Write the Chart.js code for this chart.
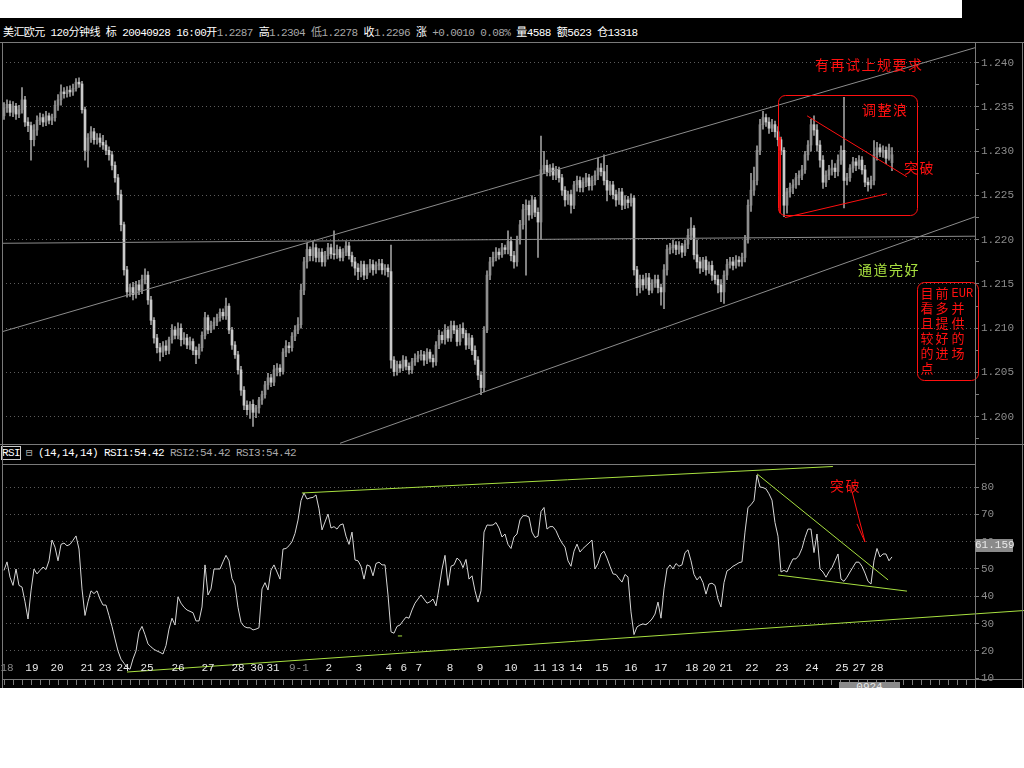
<!DOCTYPE html>
<html>
<head>
<meta charset="utf-8">
<script src="https://cdn.jsdelivr.net/npm/chart.js@4.4.0/dist/chart.umd.min.js"></script>
<style>
body{margin:0;background:#fff;width:1024px;height:768px;position:relative;overflow:hidden}
#frame{position:absolute;left:0;top:18px;width:1024px;height:670px;background:#000}
#corner{position:absolute;left:962px;top:0;width:62px;height:18px;background:#000}
.hl{position:absolute;height:1px;background:#7a7a7a}
.vl{position:absolute;width:1px;background:#7a7a7a}
.txt{position:absolute;white-space:nowrap;font:11px 'Liberation Mono','Noto Sans CJK SC',monospace;letter-spacing:-0.6px;color:#fff}
.g{color:#a8a8a8}
canvas{position:absolute;left:0}
.cur{position:absolute;background:#8a8a8a;color:#e8e8e8;font:11px 'Liberation Mono',monospace;line-height:12px;text-align:center}
</style>
</head>
<body>
<div id="frame"></div>
<div id="corner"></div>
<div class="txt" style="left:3px;top:23px">美汇欧元 120分钟线 标 20040928 16:00开<span class="g">1.2287 </span>高<span class="g">1.2304 低1.2278 </span>收<span class="g">1.2296 </span>涨<span class="g"> +0.0010 0.08% </span>量4588 额5623 仓13318</div>
<div class="txt" style="left:2px;top:446px"><span style="outline:1px solid #ccc">RSI</span> <span class="g">⊟</span> (14,14,14) RSI1:54.42 <span class="g">RSI2:54.42 RSI3:54.42</span></div>
<canvas id="price" width="1024" height="401" style="top:43px"></canvas>
<canvas id="rsi" width="1024" height="223" style="top:465px"></canvas>
<div class="hl" style="left:0;top:42px;width:1024px"></div>
<div class="hl" style="left:0;top:444px;width:1024px"></div>
<div class="hl" style="left:2px;top:464px;width:973px"></div>
<div class="hl" style="left:975px;top:679px;width:48px"></div>
<div class="vl" style="left:2px;top:42px;height:646px"></div>
<div class="vl" style="left:975px;top:42px;height:646px"></div>
<div class="vl" style="left:1022px;top:42px;height:646px"></div>
<div class="cur" style="left:975px;top:539px;width:38px;height:13px">61.159</div>
<div class="cur" style="left:839px;top:682px;width:61px;height:6px;overflow:hidden;line-height:11px">0924 20:00</div>
<script>
// 120 minute bars, 2004-08-18 .. 2004-09-28
const open = [
1.2340,1.2349,1.2353,1.2344,1.2351,1.2342,1.2347,1.2358,1.2333,1.2329,
1.2313,1.2324,1.2335,1.2338,1.2333,1.2340,1.2335,1.2338,1.2352,1.2358,
1.2367,1.2365,1.2369,1.2367,1.2371,1.2378,1.2376,1.2347,1.2301,1.2315,
1.2322,1.2313,1.2315,1.2310,1.2307,1.2301,1.2296,1.2284,1.2270,1.2251,
1.2217,1.2166,1.2141,1.2146,1.2138,1.2149,1.2143,1.2155,1.2160,1.2132,
1.2109,1.2089,1.2078,1.2073,1.2080,1.2075,1.2087,1.2098,1.2092,1.2100,
1.2087,1.2089,1.2081,1.2085,1.2075,1.2070,1.2078,1.2092,1.2112,1.2098,
1.2103,1.2107,1.2112,1.2118,1.2114,1.2125,1.2098,1.2081,1.2070,1.2053,
1.2030,1.2013,1.2008,1.2014,1.2005,1.2010,1.2019,1.2025,1.2036,1.2044,
1.2039,1.2053,1.2055,1.2051,1.2073,1.2080,1.2078,1.2091,1.2098,1.2104,
1.2143,1.2175,1.2189,1.2182,1.2191,1.2180,1.2186,1.2175,1.2182,1.2191,
1.2184,1.2183,1.2189,1.2180,1.2186,1.2193,1.2182,1.2175,1.2168,1.2164,
1.2172,1.2160,1.2168,1.2172,1.2166,1.2171,1.2173,1.2166,1.2168,1.2164,
1.2064,1.2051,1.2059,1.2055,1.2064,1.2057,1.2053,1.2062,1.2066,1.2069,
1.2070,1.2064,1.2073,1.2066,1.2062,1.2081,1.2092,1.2087,1.2098,1.2089,
1.2103,1.2098,1.2085,1.2100,1.2094,1.2081,1.2089,1.2075,1.2064,1.2047,
1.2033,1.2098,1.2160,1.2175,1.2180,1.2186,1.2183,1.2191,1.2189,1.2198,
1.2182,1.2175,1.2200,1.2217,1.2234,1.2239,1.2228,1.2245,1.2231,1.2220,
1.2279,1.2284,1.2277,1.2281,1.2273,1.2279,1.2270,1.2256,1.2245,1.2251,
1.2239,1.2262,1.2267,1.2259,1.2265,1.2270,1.2261,1.2267,1.2273,1.2281,
1.2277,1.2267,1.2256,1.2262,1.2251,1.2245,1.2254,1.2239,1.2245,1.2242,
1.2247,1.2166,1.2146,1.2155,1.2149,1.2157,1.2143,1.2151,1.2155,1.2146,
1.2141,1.2166,1.2189,1.2191,1.2194,1.2189,1.2193,1.2186,1.2195,1.2205,
1.2213,1.2183,1.2175,1.2168,1.2177,1.2166,1.2171,1.2160,1.2155,1.2149,
1.2141,1.2160,1.2172,1.2175,1.2171,1.2177,1.2175,1.2180,1.2200,1.2239,
1.2256,1.2267,1.2301,1.2330,1.2338,1.2333,1.2326,1.2330,1.2322,1.2313,
1.2301,1.2239,1.2254,1.2259,1.2262,1.2270,1.2273,1.2279,1.2296,1.2307,
1.2330,1.2324,1.2307,1.2290,1.2265,1.2273,1.2279,1.2281,1.2277,1.2290,
1.2301,1.2267,1.2270,1.2281,1.2288,1.2284,1.2290,1.2279,1.2265,1.2262,
1.2267,1.2296,1.2304,1.2299,1.2301,1.2292,1.2287];
const high = [
1.2355,1.2358,1.2357,1.2356,1.2354,1.2352,1.2372,1.2362,1.2338,1.2333,
1.2330,1.2340,1.2343,1.2342,1.2345,1.2343,1.2342,1.2357,1.2364,1.2375,
1.2372,1.2373,1.2374,1.2376,1.2382,1.2383,1.2379,1.2350,1.2320,1.2328,
1.2326,1.2320,1.2320,1.2318,1.2312,1.2305,1.2300,1.2288,1.2274,1.2256,
1.2220,1.2170,1.2150,1.2152,1.2153,1.2154,1.2160,1.2167,1.2164,1.2136,
1.2112,1.2093,1.2083,1.2085,1.2086,1.2090,1.2104,1.2102,1.2106,1.2105,
1.2095,1.2093,1.2090,1.2088,1.2079,1.2082,1.2096,1.2118,1.2115,1.2108,
1.2112,1.2116,1.2122,1.2122,1.2134,1.2128,1.2101,1.2085,1.2074,1.2057,
1.2034,1.2018,1.2017,1.2019,1.2013,1.2022,1.2029,1.2040,1.2049,1.2048,
1.2058,1.2060,1.2059,1.2077,1.2086,1.2084,1.2095,1.2103,1.2112,1.2150,
1.2180,1.2196,1.2192,1.2198,1.2195,1.2190,1.2190,1.2187,1.2196,1.2195,
1.2210,1.2194,1.2192,1.2190,1.2198,1.2197,1.2186,1.2180,1.2173,1.2176,
1.2176,1.2172,1.2178,1.2177,1.2175,1.2178,1.2178,1.2172,1.2172,1.2194,
1.2068,1.2063,1.2063,1.2069,1.2068,1.2061,1.2066,1.2071,1.2074,1.2075,
1.2074,1.2077,1.2076,1.2070,1.2085,1.2098,1.2096,1.2104,1.2102,1.2108,
1.2108,1.2103,1.2104,1.2106,1.2098,1.2094,1.2092,1.2080,1.2068,1.2051,
1.2102,1.2165,1.2180,1.2186,1.2191,1.2190,1.2196,1.2194,1.2210,1.2203,
1.2187,1.2204,1.2222,1.2240,1.2245,1.2244,1.2250,1.2248,1.2236,1.2317,
1.2300,1.2290,1.2285,1.2286,1.2283,1.2282,1.2274,1.2260,1.2255,1.2256,
1.2266,1.2272,1.2271,1.2270,1.2275,1.2274,1.2272,1.2278,1.2292,1.2286,
1.2296,1.2284,1.2266,1.2266,1.2256,1.2258,1.2258,1.2250,1.2249,1.2252,
1.2250,1.2170,1.2160,1.2160,1.2162,1.2162,1.2155,1.2160,1.2160,1.2150,
1.2172,1.2194,1.2196,1.2200,1.2198,1.2198,1.2196,1.2200,1.2212,1.2225,
1.2216,1.2200,1.2180,1.2180,1.2181,1.2175,1.2176,1.2165,1.2160,1.2155,
1.2165,1.2178,1.2180,1.2180,1.2182,1.2181,1.2185,1.2205,1.2245,1.2275,
1.2282,1.2306,1.2336,1.2345,1.2342,1.2338,1.2336,1.2334,1.2328,1.2316,
1.2304,1.2258,1.2264,1.2268,1.2275,1.2278,1.2284,1.2300,1.2312,1.2336,
1.2340,1.2330,1.2312,1.2295,1.2278,1.2284,1.2290,1.2286,1.2296,1.2306,
1.2361,1.2275,1.2285,1.2293,1.2292,1.2295,1.2294,1.2284,1.2270,1.2272,
1.2312,1.2310,1.2308,1.2306,1.2305,1.2308,1.2304];
const low = [
1.2336,1.2344,1.2340,1.2339,1.2336,1.2338,1.2343,1.2328,1.2322,1.2290,
1.2306,1.2318,1.2330,1.2328,1.2329,1.2331,1.2330,1.2334,1.2346,1.2352,
1.2360,1.2361,1.2362,1.2363,1.2368,1.2372,1.2343,1.2290,1.2282,1.2310,
1.2308,1.2308,1.2305,1.2302,1.2296,1.2290,1.2279,1.2265,1.2245,1.2210,
1.2160,1.2135,1.2136,1.2132,1.2134,1.2138,1.2139,1.2150,1.2127,1.2104,
1.2083,1.2072,1.2063,1.2068,1.2070,1.2071,1.2083,1.2088,1.2088,1.2080,
1.2082,1.2077,1.2076,1.2070,1.2060,1.2066,1.2074,1.2088,1.2094,1.2095,
1.2099,1.2103,1.2108,1.2110,1.2110,1.2094,1.2076,1.2066,1.2048,1.2024,
1.2008,1.2002,1.1998,1.1989,1.1999,1.2004,1.2014,1.2021,1.2031,1.2034,
1.2035,1.2046,1.2046,1.2048,1.2068,1.2072,1.2074,1.2086,1.2094,1.2100,
1.2138,1.2168,1.2176,1.2176,1.2175,1.2175,1.2170,1.2170,1.2178,1.2179,
1.2178,1.2179,1.2176,1.2176,1.2182,1.2178,1.2170,1.2160,1.2155,1.2158,
1.2155,1.2156,1.2163,1.2160,1.2162,1.2166,1.2161,1.2160,1.2158,1.2055,
1.2046,1.2047,1.2050,1.2052,1.2053,1.2048,1.2049,1.2058,1.2062,1.2064,
1.2058,1.2060,1.2062,1.2056,1.2058,1.2077,1.2083,1.2082,1.2085,1.2085,
1.2094,1.2080,1.2081,1.2089,1.2076,1.2077,1.2070,1.2059,1.2042,1.2025,
1.2028,1.2095,1.2155,1.2170,1.2176,1.2178,1.2180,1.2184,1.2184,1.2176,
1.2168,1.2170,1.2195,1.2212,1.2160,1.2222,1.2224,1.2226,1.2180,1.2200,
1.2275,1.2272,1.2272,1.2268,1.2268,1.2265,1.2250,1.2238,1.2240,1.2230,
1.2235,1.2255,1.2254,1.2254,1.2260,1.2256,1.2256,1.2262,1.2268,1.2272,
1.2262,1.2244,1.2251,1.2246,1.2238,1.2240,1.2234,1.2235,1.2236,1.2238,
1.2160,1.2137,1.2140,1.2143,1.2145,1.2138,1.2140,1.2146,1.2140,1.2126,
1.2122,1.2160,1.2184,1.2185,1.2183,1.2184,1.2180,1.2182,1.2190,1.2200,
1.2178,1.2168,1.2162,1.2164,1.2160,1.2162,1.2154,1.2150,1.2140,1.2130,
1.2128,1.2155,1.2168,1.2166,1.2168,1.2170,1.2170,1.2175,1.2196,1.2232,
1.2250,1.2262,1.2296,1.2325,1.2328,1.2320,1.2322,1.2316,1.2306,1.2296,
1.2226,1.2230,1.2248,1.2252,1.2258,1.2262,1.2268,1.2275,1.2290,1.2300,
1.2318,1.2300,1.2282,1.2258,1.2260,1.2268,1.2273,1.2270,1.2272,1.2285,
1.2236,1.2262,1.2266,1.2276,1.2278,1.2280,1.2274,1.2260,1.2255,1.2258,
1.2262,1.2290,1.2294,1.2293,1.2286,1.2290,1.2278];
const close = [
1.2349,1.2353,1.2344,1.2351,1.2342,1.2347,1.2358,1.2333,1.2329,1.2313,
1.2324,1.2335,1.2338,1.2333,1.2340,1.2335,1.2338,1.2352,1.2358,1.2367,
1.2365,1.2369,1.2367,1.2371,1.2378,1.2376,1.2347,1.2301,1.2315,1.2322,
1.2313,1.2315,1.2310,1.2307,1.2301,1.2296,1.2284,1.2270,1.2251,1.2217,
1.2166,1.2141,1.2146,1.2138,1.2149,1.2143,1.2155,1.2160,1.2132,1.2109,
1.2089,1.2078,1.2073,1.2080,1.2075,1.2087,1.2098,1.2092,1.2100,1.2087,
1.2089,1.2081,1.2085,1.2075,1.2070,1.2078,1.2092,1.2112,1.2098,1.2103,
1.2107,1.2112,1.2118,1.2114,1.2125,1.2098,1.2081,1.2070,1.2053,1.2030,
1.2013,1.2008,1.2014,1.2005,1.2010,1.2019,1.2025,1.2036,1.2044,1.2039,
1.2053,1.2055,1.2051,1.2073,1.2080,1.2078,1.2091,1.2098,1.2104,1.2143,
1.2175,1.2189,1.2182,1.2191,1.2180,1.2186,1.2175,1.2182,1.2191,1.2184,
1.2183,1.2189,1.2180,1.2186,1.2193,1.2182,1.2175,1.2168,1.2164,1.2172,
1.2160,1.2168,1.2172,1.2166,1.2171,1.2173,1.2166,1.2168,1.2164,1.2064,
1.2051,1.2059,1.2055,1.2064,1.2057,1.2053,1.2062,1.2066,1.2069,1.2070,
1.2064,1.2073,1.2066,1.2062,1.2081,1.2092,1.2087,1.2098,1.2089,1.2103,
1.2098,1.2085,1.2100,1.2094,1.2081,1.2089,1.2075,1.2064,1.2047,1.2033,
1.2098,1.2160,1.2175,1.2180,1.2186,1.2183,1.2191,1.2189,1.2198,1.2182,
1.2175,1.2200,1.2217,1.2234,1.2239,1.2228,1.2245,1.2231,1.2220,1.2279,
1.2284,1.2277,1.2281,1.2273,1.2279,1.2270,1.2256,1.2245,1.2251,1.2239,
1.2262,1.2267,1.2259,1.2265,1.2270,1.2261,1.2267,1.2273,1.2281,1.2277,
1.2267,1.2256,1.2262,1.2251,1.2245,1.2254,1.2239,1.2245,1.2242,1.2247,
1.2166,1.2146,1.2155,1.2149,1.2157,1.2143,1.2151,1.2155,1.2146,1.2141,
1.2166,1.2189,1.2191,1.2194,1.2189,1.2193,1.2186,1.2195,1.2205,1.2213,
1.2183,1.2175,1.2168,1.2177,1.2166,1.2171,1.2160,1.2155,1.2149,1.2141,
1.2160,1.2172,1.2175,1.2171,1.2177,1.2175,1.2180,1.2200,1.2239,1.2256,
1.2267,1.2301,1.2330,1.2338,1.2333,1.2326,1.2330,1.2322,1.2313,1.2301,
1.2239,1.2254,1.2259,1.2262,1.2270,1.2273,1.2279,1.2296,1.2307,1.2330,
1.2324,1.2307,1.2290,1.2265,1.2273,1.2279,1.2281,1.2277,1.2290,1.2301,
1.2267,1.2270,1.2281,1.2288,1.2284,1.2290,1.2279,1.2265,1.2262,1.2267,
1.2296,1.2304,1.2299,1.2301,1.2292,1.2304,1.2296];
// RSI(14) per bar
const rsi = [
49.5,52.6,47,44,50,44,43.4,38,31.7,42,
50,48.2,49.5,50.7,49.8,53,60.6,58,53,59,
59.5,58.5,59,60.5,62.1,57.3,42.7,33,38,42,
41,42,39,36.8,36.8,33,29,24.4,20,17,
15.5,14,13.3,17.1,20,27,29,26,22.6,21.5,
20.6,20,19.5,18.9,22,28,32,29.5,39.8,37.5,
36,35,34.5,34,31,31,36.1,51.5,40.5,42.7,
50,50,50,52.6,55,53,46.5,44.1,36,30.5,
29,28.5,28.5,27.7,28,28.5,42.7,45,42.3,49.6,
51.5,48.9,46.3,57.3,57.5,58.5,60,63,67.9,75,
77.8,75.6,76,76.2,77.1,72,64.3,67.2,70.1,65,
65.5,64.6,66.1,66.5,62,59,63.5,53.3,53,51,
46.3,51.5,51,47.5,52,52.5,51.5,51.5,40.5,27,
26.5,29,29.5,31,32.4,32,35,37.5,39,40.5,
39,37.5,38,39,36.5,43,50,55,44,51,
51.5,54,53,50.5,53.5,46.3,47.5,42,37.9,42,
63.5,66.1,66,66.1,67,65,61.7,62.8,59,57.5,
61.7,62.8,68,69.5,69.5,69,63.5,61.5,62,71,
72.5,64.6,65.5,65.5,64,61.5,59.5,58,53,51,
56.5,59.1,56.2,57.5,58.5,59.5,60.6,50,52,55.5,
56.5,54,51,48.2,48,46.5,45.2,48,47.1,34.3,
26,28.8,29.5,29.9,29.6,30.5,31.7,33.5,37.9,32,
42.7,50,51.5,50,52,51,51.5,56,57,53,
48,46,47.3,45,40.8,44.5,44.8,44,39,36.1,
45,49.3,50,51,51.6,52.3,52.6,63.5,72.5,73.5,
75,84.4,80,79.8,79.3,77.5,75.2,67,62,48.9,
49.5,48.9,51.5,53.7,53.7,55,57.5,61.5,64.6,64.6,
56,62.8,50,48.9,47,49,50.5,53,55.5,46.3,
45.5,47,48.9,50.7,52.5,52.5,51,48.5,45.5,44.5,
53,57.5,54.4,55.5,55.5,53,54.42];

// date labels under the RSI pane, placed by bar index
const dayLabels = ['18','19','20','21','23','24','25','26','27','28','30','31','9-1','2','3','4','6','7','8','9','10','11','13','14','15','16','17','18','20','21','22','23','24','25','27','28'];
const dayPos = [1,9.3,17.7,27.7,33.7,39.7,47.7,58,68,78,84.3,89.7,98.3,108.3,118.3,128.3,133.3,138.3,148.7,158.7,169,178.7,184.7,190.7,199.3,209,219,229.3,235,240.7,249.3,259.3,269.3,279.3,285,291];

// hand drawn lines, [bar index, value]
const channelTop = [[-0.7, 1.2096], [323.7, 1.2417]];
const channelLow = [[112, 1.1970], [323.7, 1.2226]];
const flatLine = [[-0.7, 1.2196], [323.7, 1.2204]];
const redEdge = [[258.7, 1.2316], [258.7, 1.2230]];
const redTop = [[267.7, 1.2340], [301, 1.2271]];
const redLow = [[260.3, 1.2225], [294.3, 1.2252]];
const rsiTop = [[99.3, 77.8], [276.3, 87.5]];
const rsiLow = [[41, 12.3], [340, 34.8]];
const rsiFall = [[251, 84.8], [294.7, 46.0]];
const rsiBase = [[258, 47.8], [301, 41.9]];
const rsiDash = [[131.3, 25.5], [132.7, 25.5]];
const rsiArrow = [[282.7, 78.2], [287, 59.9]];
const rsiBarb = [[284.3, 66.5], [287, 59.9]];

// rounded boxes [x0, x1, top, bottom] and notes
const priceBoxes = [[258, 304.3, 1.2364, 1.2228], [304.3, 324.7, 1.2152, 1.2042]];
const priceNotes = [
  {text: '有再试上规要求', x: 270.3, y: 1.23975},
  {text: '调整浪', x: 286, y: 1.2347},
  {text: '突破', x: 300, y: 1.2281},
  {text: '通道完好', x: 284.7, y: 1.2166, green: true}
];
const boxRows = [['目','前','EUR'],['看','多','并'],['且','提','供'],['较','好','的'],['的','进','场'],['点']];
const rsiNotes = [{text: '突破', x: 275.3, y: 80.5}];

const RED = '#ff1010', GREEN = '#a8e040', GREY = '#8c8c8c', DOT = '#5c5c5c';
const cjk = '14px "Noto Sans CJK SC"';
const mono = {family: "'Liberation Mono', monospace", size: 11};

const bars = close.map((c, i) => i);
function pts(a) { return a.map(p => ({x: p[0], y: p[1]})); }
function seg(a, color, clip) {
  return {type: 'line', data: pts(a), borderColor: color, borderWidth: 1, pointRadius: 0, order: 0, clip: clip === false ? false : undefined};
}
function fixY(s) { s.width = 49; s.paddingTop = 0; s.paddingBottom = 0; }

const notesPlugin = {
  id: 'notes',
  afterDatasetsDraw(chart, args, o) {
    const ctx = chart.ctx, x = chart.scales.x, y = chart.scales.y;
    ctx.save();
    ctx.textBaseline = 'middle';
    const boxPx = (o.boxes || []).map(b => {
      const l = Math.round(x.getPixelForValue(b[0])) + 0.5, r = Math.round(x.getPixelForValue(b[1])) + 0.5;
      const t = Math.round(y.getPixelForValue(b[2])) + 0.5, btm = Math.round(y.getPixelForValue(b[3])) + 0.5;
      ctx.strokeStyle = RED; ctx.lineWidth = 1;
      ctx.beginPath(); ctx.roundRect(l, t, r - l, btm - t, 7); ctx.stroke();
      return {l, t};
    });
    (o.notes || []).forEach(n => {
      ctx.fillStyle = n.green ? GREEN : RED;
      ctx.font = cjk;
      let px = x.getPixelForValue(n.x);
      const py = y.getPixelForValue(n.y);
      [...n.text].forEach(ch => { ctx.fillText(ch, px, py); px += 15.5; });
    });
    if (o.rows && boxPx[1]) {
      const b = boxPx[1];
      ctx.fillStyle = RED;
      o.rows.forEach((row, r) => row.forEach((ch, c) => {
        ctx.font = ch === 'EUR' ? "12px 'Liberation Mono'" : '13px "Noto Sans CJK SC"';
        ctx.fillText(ch, b.l + [3, 18, 34][c], b.t + 11 + r * 15);
      }));
    }
    ctx.restore();
  }
};

const daysPlugin = {
  id: 'days',
  afterDatasetsDraw(chart) {
    const ctx = chart.ctx, x = chart.scales.x, yb = chart.chartArea.bottom - 11;
    ctx.save();
    ctx.font = "11px 'Liberation Mono', monospace";
    ctx.textAlign = 'center';
    ctx.textBaseline = 'middle';
    dayLabels.forEach((t, k) => {
      ctx.fillStyle = (k === 0 || t === '9-1') ? '#8a8a8a' : '#e8e8e8';
      ctx.fillText(t, x.getPixelForValue(dayPos[k]), yb);
    });
    ctx.restore();
  }
};

const xHidden = {type: 'linear', min: -0.667, max: 323.667, display: false, offset: false};

new Chart(document.getElementById('price'), {
  type: 'bar',
  data: {datasets: [
    {data: bars.map(i => ({x: i, y: [low[i], high[i]]})), backgroundColor: '#9c9c9c', barThickness: 1, grouped: false, order: 2},
    {data: bars.map(i => ({x: i, y: [open[i], close[i]]})), backgroundColor: bars.map(i => close[i] >= open[i] ? '#8e8e8e' : '#cacaca'),
     barThickness: 2, minBarLength: 1, grouped: false, order: 1},
    seg(channelTop, GREY), seg(channelLow, GREY), seg(flatLine, GREY),
    seg(redEdge, RED), seg(redTop, RED), seg(redLow, RED)
  ]},
  options: {
    responsive: false, animation: false, events: [], devicePixelRatio: 1,
    layout: {padding: {left: 2, right: 0, top: 0, bottom: 0}},
    plugins: {legend: {display: false}, tooltip: {enabled: false},
      notes: {boxes: priceBoxes, notes: priceNotes, rows: boxRows}},
    scales: {
      x: xHidden,
      y: {position: 'right', min: 1.19692, max: 1.24223, afterFit: fixY,
        ticks: {stepSize: 0.0025, includeBounds: false, color: '#8c8c8c', font: mono, padding: 2,
          callback: v => Math.round(v * 10000) % 50 === 0 ? v.toFixed(3) : ''},
        grid: {color: c => c.tick && Math.round(c.tick.value * 10000) % 50 === 0 ? DOT : 'rgba(0,0,0,0)',
          tickColor: '#7a7a7a', tickLength: 4},
        border: {color: '#7a7a7a', dash: [1, 3]}}
    }
  },
  plugins: [notesPlugin]
});

new Chart(document.getElementById('rsi'), {
  type: 'line',
  data: {datasets: [
    {data: bars.map(i => ({x: i, y: rsi[i]})), borderColor: '#d6d6d6', borderWidth: 1, pointRadius: 0, order: 1},
    seg(rsiTop, GREEN), seg(rsiLow, GREEN, false), seg(rsiFall, GREEN), seg(rsiBase, GREEN), seg(rsiDash, GREEN),
    seg(rsiArrow, RED), seg(rsiBarb, RED)
  ]},
  options: {
    responsive: false, animation: false, events: [], devicePixelRatio: 1,
    layout: {padding: {left: 2, right: 0, top: 0, bottom: 3}},
    plugins: {legend: {display: false}, tooltip: {enabled: false}, notes: {notes: rsiNotes}},
    scales: {
      x: {type: 'linear', min: -0.667, max: 323.667, offset: false,
        afterFit: s => { s.height = 6; s.paddingLeft = 0; s.paddingRight = 0; },
        ticks: {display: false, stepSize: 3, includeBounds: false},
        grid: {drawOnChartArea: false, tickLength: 6, color: '#7a7a7a'},
        border: {color: '#7a7a7a'}},
      y: {position: 'right', min: 9.75, max: 88.05, afterFit: fixY,
        ticks: {stepSize: 5, includeBounds: false, color: '#8c8c8c', font: mono, padding: 2,
          callback: v => v % 10 === 0 ? String(v) : ''},
        grid: {color: c => c.tick && c.tick.value % 10 === 0 && c.tick.value >= 20 ? DOT : 'rgba(0,0,0,0)',
          tickColor: '#7a7a7a', tickLength: 4},
        border: {color: '#7a7a7a', dash: [1, 3]}}
    }
  },
  plugins: [notesPlugin, daysPlugin]
});
</script>
</body>
</html>
